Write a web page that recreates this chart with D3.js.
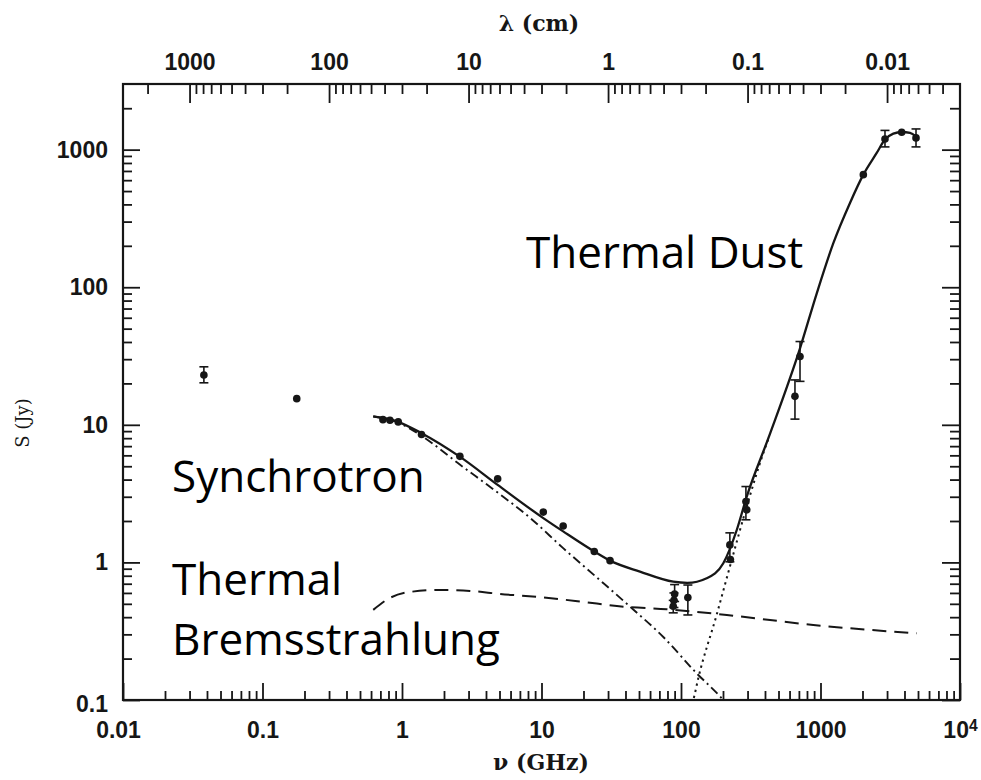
<!DOCTYPE html>
<html>
<head>
<meta charset="utf-8">
<script src="https://cdn.jsdelivr.net/npm/d3@7"></script>
<style>
  body { margin: 0; background: #fff; }
  svg { display: block; }
</style>
</head>
<body>
<svg id="chart" width="981" height="780"></svg>
<script>
// Measured flux densities: frequency (GHz), flux (Jy), error bounds (null = no bar)
const obsFreq = [0.038, 0.176, 0.73, 0.82, 0.94, 1.38, 2.6, 4.85, 10.3, 14.3, 23.9, 31,
                 90, 89, 88, 112, 224, 226, 292, 296, 656, 713, 2028, 2899, 3820, 4838];
const obsFlux = [23, 15.5, 10.9, 10.8, 10.5, 8.5, 5.9, 4.05, 2.32, 1.84, 1.2, 1.03,
                 0.59, 0.53, 0.48, 0.555, 1.34, 1.05, 2.77, 2.41, 16.1, 31.4, 658, 1196, 1337, 1217];
const obsLow  = [20.2, null, null, null, null, null, null, null, null, null, null, null,
                 0.52, 0.47, 0.43, 0.415, 1.01, null, 2.04, null, 11.0, 20.7, null, 1047, null, 1047];
const obsHigh = [26.4, null, null, null, null, null, null, null, null, null, null, null,
                 0.69, 0.60, 0.53, 0.685, 1.64, null, 3.56, null, 21.2, 40.3, null, 1380, null, 1414];

// Fitted spectrum: total model (solid)
const totalFreq = [0.622, 0.916, 1.38, 2.61, 4.85, 10.3, 14.3, 23.9, 31, 50.8, 88, 111, 152.8,
                   201, 251, 296, 423, 713, 939, 1236, 1627, 2028, 2529, 2899, 3327, 3820, 4385, 4838];
const totalFlux = [11.5, 10.6, 8.7, 5.85, 3.66, 2.1, 1.68, 1.2, 1.03, 0.857, 0.724, 0.71, 0.767,
                   0.986, 1.72, 3.01, 8.0, 36, 90, 209, 410, 658, 946, 1183, 1307, 1344, 1322, 1250];

// Synchrotron component (dash-dot)
const synchFreq = [0.622, 0.916, 1.38, 2.61, 4.77, 8.27, 14.3, 24.9, 43.1, 74.7, 129.7, 190.5, 215];
const synchFlux = [11.5, 10.5, 8.32, 5.12, 3.26, 2.11, 1.27, 0.778, 0.477, 0.287, 0.156, 0.106, 0.092];

// Thermal bremsstrahlung component (dashed)
const freeFreq = [0.622, 0.82, 1.14, 1.87, 3.07, 5.04, 9.76, 18.9, 38.6, 79, 213, 888, 4893];
const freeFlux = [0.452, 0.552, 0.61, 0.631, 0.621, 0.59, 0.559, 0.52, 0.477, 0.457, 0.415, 0.351, 0.305];

// Thermal dust component (dotted)
const dustFreq = [116, 122.5, 133, 180, 224, 296, 389, 423];
const dustFlux = [0.085, 0.1, 0.144, 0.415, 0.93, 2.55, 6.22, 7.9];

// Axis ticks and labels
const nuTicks = [0.01, 0.1, 1, 10, 100, 1000, 10000];
const nuTickLabels = ["0.01", "0.1", "1", "10", "100", "1000", "10"];
const lambdaTicks = [1000, 100, 10, 1, 0.1, 0.01];
const lambdaTickLabels = ["1000", "100", "10", "1", "0.1", "0.01"];
const fluxTicks = [0.1, 1, 10, 100, 1000];
const fluxTickLabels = ["0.1", "1", "10", "100", "1000"];

const svg = d3.select("#chart");
const plot = { left: 123, right: 960, top: 84, bottom: 700 };
const ink = "#161616";

const x = d3.scaleLog().domain([0.01, 1e4]).range([plot.left, plot.right]);
const y = d3.scaleLog().domain([0.1, 3000]).range([plot.bottom, plot.top]);
// wavelength in cm = 30 / frequency in GHz
const C_CM_GHZ = 30;
const xl = d3.scaleLog().domain([C_CM_GHZ / 0.01, C_CM_GHZ / 1e4]).range([plot.left, plot.right]);

function minorTicks(lo, hi) {
  const out = [];
  for (let e = -4; e <= 4; e++) {
    for (let k = 2; k <= 9; k++) {
      const v = +(k * Math.pow(10, e)).toPrecision(6);
      if (v > lo * 1.0001 && v < hi * 0.9999) out.push(v);
    }
  }
  return out;
}

function styleAxis(g) {
  g.select(".domain").remove();
  g.selectAll(".tick line").attr("stroke", ink).attr("stroke-width", 1.8);
  g.selectAll(".tick text")
    .attr("font-family", "'Liberation Sans', Arial, sans-serif")
    .attr("font-weight", "bold")
    .attr("font-size", 23)
    .attr("fill", ink);
}

const MAJ = 17, MIN = 9;

// bottom: frequency
const gBottom = svg.append("g").attr("transform", `translate(0,${plot.bottom})`);
gBottom.append("g").call(d3.axisBottom(x).tickValues(minorTicks(0.01, 1e4)).tickSize(-MIN).tickFormat("")).call(styleAxis);
const gBottomMajor = gBottom.append("g")
  .call(d3.axisBottom(x).tickValues(nuTicks).tickSize(-MAJ).tickPadding(22).tickFormat((d, i) => nuTickLabels[i]))
  .call(styleAxis);
gBottomMajor.selectAll(".tick text").filter(d => d === 10000)
  .append("tspan").attr("dy", "-0.45em").attr("font-size", "0.68em").text("4");
gBottomMajor.selectAll(".tick text").filter(d => d === 0.01).attr("dx", -5);

// top: wavelength
const gTop = svg.append("g").attr("transform", `translate(0,${plot.top})`);
gTop.append("g").call(d3.axisTop(xl).tickValues(minorTicks(C_CM_GHZ / 1e4, C_CM_GHZ / 0.01)).tickSize(-MIN - 1).tickFormat("")).call(styleAxis);
gTop.append("g")
  .call(d3.axisTop(xl).tickValues(lambdaTicks).tickSize(-MAJ - 2).tickPadding(14).tickFormat((d, i) => lambdaTickLabels[i]))
  .call(styleAxis);

// left: flux density
const gLeft = svg.append("g").attr("transform", `translate(${plot.left},0)`);
gLeft.append("g").call(d3.axisLeft(y).tickValues(minorTicks(0.1, 3000.1)).tickSize(-MIN).tickFormat("")).call(styleAxis);
const gLeftMajor = gLeft.append("g")
  .call(d3.axisLeft(y).tickValues(fluxTicks).tickSize(-MAJ).tickPadding(15).tickFormat((d, i) => fluxTickLabels[i]))
  .call(styleAxis);
gLeftMajor.selectAll(".tick text").filter(d => d === 0.1).attr("dy", "0.5em");

// right: mirrored ticks
const gRight = svg.append("g").attr("transform", `translate(${plot.right},0)`);
gRight.append("g").call(d3.axisRight(y).tickValues(minorTicks(0.1, 3000.1)).tickSize(-MIN - 1).tickFormat("")).call(styleAxis);
gRight.append("g").call(d3.axisRight(y).tickValues(fluxTicks).tickSize(-MAJ - 1).tickFormat("")).call(styleAxis);

// frame
svg.append("rect")
  .attr("x", plot.left).attr("y", plot.top)
  .attr("width", plot.right - plot.left).attr("height", plot.bottom - plot.top)
  .attr("fill", "none").attr("stroke", ink).attr("stroke-width", 2.2);

// model curves, clipped to the plotting area
svg.append("clipPath").attr("id", "plot-clip")
  .append("rect")
  .attr("x", plot.left).attr("y", plot.top)
  .attr("width", plot.right - plot.left).attr("height", plot.bottom - plot.top);

const curves = svg.append("g").attr("clip-path", "url(#plot-clip)").attr("fill", "none").attr("stroke", ink);
const line = d3.line().x(d => x(d[0])).y(d => y(d[1])).curve(d3.curveMonotoneX);

curves.append("path").datum(d3.zip(freeFreq, freeFlux))
  .attr("d", line).attr("stroke-width", 2).attr("stroke-dasharray", "14,8");
curves.append("path").datum(d3.zip(synchFreq, synchFlux))
  .attr("d", line).attr("stroke-width", 1.9).attr("stroke-dasharray", "9,4,2,4");
curves.append("path").datum(d3.zip(dustFreq, dustFlux))
  .attr("d", line).attr("stroke-width", 2).attr("stroke-dasharray", "2.2,4");
curves.append("path").datum(d3.zip(totalFreq, totalFlux))
  .attr("d", line).attr("stroke-width", 2.3);

// data points with error bars
const obs = obsFreq.map((f, i) => ({ f, s: obsFlux[i], lo: obsLow[i], hi: obsHigh[i] }));
const pts = svg.append("g").attr("stroke", ink).attr("fill", ink);
const withBars = obs.filter(d => d.lo !== null);
pts.selectAll("line.bar").data(withBars).join("line").attr("class", "bar")
  .attr("x1", d => x(d.f)).attr("x2", d => x(d.f))
  .attr("y1", d => y(d.lo)).attr("y2", d => y(d.hi)).attr("stroke-width", 1.6);
pts.selectAll("line.caplo").data(withBars).join("line").attr("class", "caplo")
  .attr("x1", d => x(d.f) - 4.5).attr("x2", d => x(d.f) + 4.5)
  .attr("y1", d => y(d.lo)).attr("y2", d => y(d.lo)).attr("stroke-width", 1.6);
pts.selectAll("line.caphi").data(withBars).join("line").attr("class", "caphi")
  .attr("x1", d => x(d.f) - 4.5).attr("x2", d => x(d.f) + 4.5)
  .attr("y1", d => y(d.hi)).attr("y2", d => y(d.hi)).attr("stroke-width", 1.6);
pts.selectAll("circle").data(obs).join("circle")
  .attr("cx", d => x(d.f)).attr("cy", d => y(d.s)).attr("r", 3.8).attr("stroke", "none");

// axis titles
const serif = "'DejaVu Serif', 'Liberation Serif', serif";
svg.append("text").attr("x", 539).attr("y", 31).attr("text-anchor", "middle")
  .attr("font-family", serif).attr("font-weight", "bold").attr("font-size", 22).attr("fill", ink)
  .text("λ (cm)");
svg.append("text").attr("x", 541).attr("y", 770).attr("text-anchor", "middle")
  .attr("font-family", serif).attr("font-weight", "bold").attr("font-size", 22).attr("fill", ink)
  .text("ν (GHz)");
svg.append("text").attr("transform", "translate(29,423) rotate(-90)").attr("text-anchor", "middle")
  .attr("font-family", serif).attr("font-size", 18).attr("fill", ink)
  .text("S (Jy)");

// component annotations
const notes = [
  { text: "Thermal Dust", x: 526, y: 268 },
  { text: "Synchrotron", x: 172, y: 492 },
  { text: "Thermal", x: 172, y: 595 },
  { text: "Bremsstrahlung", x: 172, y: 655 }
];
svg.append("g").selectAll("text").data(notes).join("text")
  .attr("x", d => d.x).attr("y", d => d.y)
  .attr("font-family", "'Open Sans', 'Noto Sans', sans-serif")
  .attr("font-size", 44).attr("fill", "#000")
  .text(d => d.text);
</script>
</body>
</html>
